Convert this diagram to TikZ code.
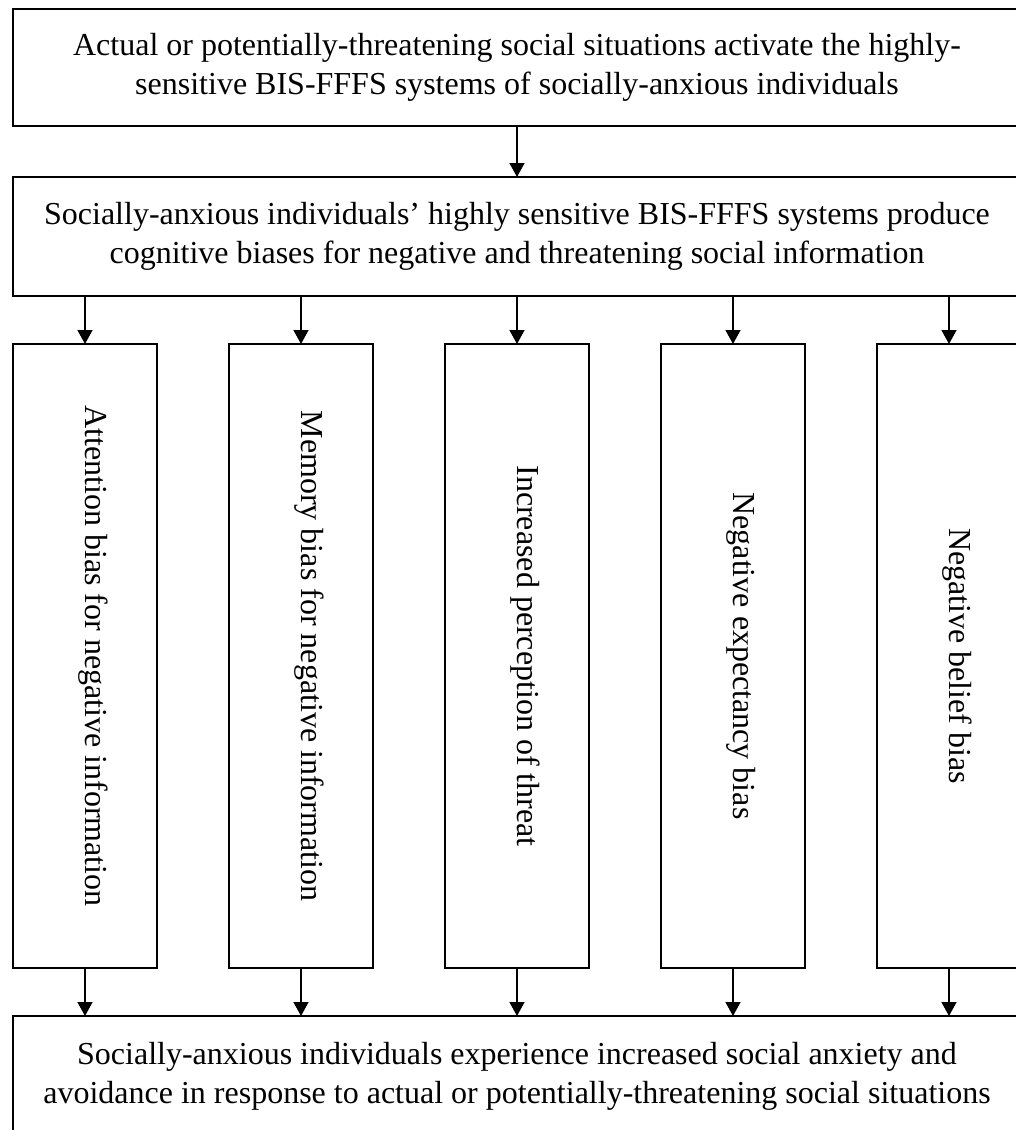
\documentclass[tikz,border=0pt]{standalone}
\usepackage{fontspec}
\setmainfont{Liberation Serif}
\usetikzlibrary{arrows.meta}
\begin{document}
\begin{tikzpicture}[x=0.5pt,y=-0.5pt,
  font=\fontsize{16}{19.5}\selectfont,
  widebox/.style={draw,line width=0.8pt,inner sep=0pt,outer sep=0pt,
    minimum width=504pt,align=center},
  colbox/.style={draw,line width=0.8pt,inner sep=0pt,outer sep=0pt,
    minimum width=72pt,minimum height=312pt},
  coltext/.style={rotate=-90,anchor=base,inner sep=0pt},
  arr/.style={line width=0.65pt,-{Triangle[length=7pt,width=7.5pt]}}]
\useasboundingbox (0,0) rectangle (1016,1130);
\clip (0,0) rectangle (1016,1130);
% wide boxes
\node[widebox,minimum height=58.5pt] (top) at (517,67.5)
  {Actual or potentially-threatening social situations activate the highly-\\
   sensitive BIS-FFFS systems of socially-anxious individuals};
\node[widebox,minimum height=59.5pt] (mid) at (517,236.5)
  {Socially-anxious individuals’ highly sensitive BIS-FFFS systems produce\\
   cognitive biases for negative and threatening social information};
\node[widebox,minimum height=60pt] (bot) at (517,1076)
  {Socially-anxious individuals experience increased social anxiety and\\
   avoidance in response to actual or potentially-threatening social situations};
% bias columns
\node[colbox] (c1) at (85,656) {};
\node[colbox] (c2) at (301,656) {};
\node[colbox] (c3) at (517,656) {};
\node[colbox] (c4) at (733,656) {};
\node[colbox] (c5) at (949,656) {};
\node[coltext] (t1) at (c1.center) {Attention bias for negative information};
\node[coltext] (t2) at (c2.center) {Memory bias for negative information};
\node[coltext] (t3) at (c3.center) {Increased perception of threat};
\node[coltext] (t4) at (c4.center) {Negative expectancy bias};
\node[coltext] (t5) at (c5.center) {Negative belief bias};
% connectors
\draw[arr] (top.south) -- (mid.north);
\foreach \c in {c1,c2,c3,c4,c5}{
  \draw[arr] (mid.south -| \c.north) -- (\c.north);
  \draw[arr] (\c.south) -- (bot.north -| \c.south);
}
\end{tikzpicture}
\end{document}
